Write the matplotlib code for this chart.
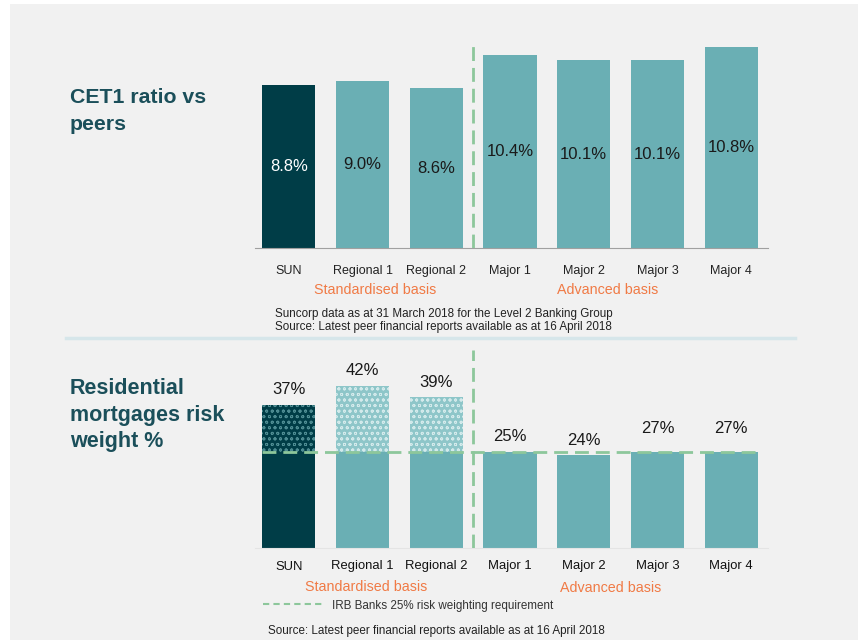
import matplotlib.pyplot as plt
from matplotlib.patches import Rectangle
from matplotlib.lines import Line2D

plt.rcParams['font.family'] = ['Liberation Sans', 'DejaVu Sans']
plt.rcParams['hatch.linewidth'] = 0.6

# Data
banks = ["SUN", "Regional 1", "Regional 2", "Major 1", "Major 2", "Major 3", "Major 4"]
cet1 = [8.8, 9.0, 8.6, 10.4, 10.1, 10.1, 10.8]
risk_weight = [37, 42, 39, 25, 24, 27, 27]
irb_req = 25
standardised = [0, 1, 2]  # banks on standardised basis

dark = "#003d47"
teal = "#6aafb4"
green = "#8dc79b"
orange = "#f07a45"
title_col = "#1b4f5a"
bg = "#f1f1f1"

W, H = 858, 640
fig = plt.figure(figsize=(W / 100, H / 100), dpi=100, facecolor="white")
fig.patches.append(Rectangle((10 / W, 0), 1, 1 - 4 / H, transform=fig.transFigure,
                             facecolor=bg, edgecolor="none", zorder=-5))


def px_axes(left, top, right, bottom):
    return fig.add_axes([left / W, 1 - bottom / H, (right - left) / W, (bottom - top) / H])


x = list(range(len(banks)))
colors = [dark if i == 0 else teal for i in x]
bw = 0.72
xlim = (-0.46, 6.5)
dash = (0, (5, 2.5))

# ---------------- top chart: CET1 ----------------
ax1 = px_axes(255, 40, 768, 248)
ax1.set_facecolor("none")
ax1.bar(x, cet1, width=bw, color=colors, edgecolor="none", zorder=2)
ax1.set_xlim(*xlim)
ax1.set_ylim(0, 11.2)
for i, v in enumerate(cet1):
    ax1.text(i, v / 2, f"{v:.1f}%", ha="center", va="center", fontsize=12,
             color="white" if i == 0 else "#1a1a1a", zorder=3)
ax1.plot([2.5, 2.5], [0, 10.95], ls=dash, color=green, lw=2, zorder=3)
for s in ["top", "right", "left"]:
    ax1.spines[s].set_visible(False)
ax1.spines["bottom"].set_color("#a0a0a0")
ax1.set_yticks([])
ax1.set_xticks(x)
ax1.set_xticklabels(banks, fontsize=9, color="#222222")
ax1.tick_params(axis="x", length=0, pad=12)

fig.text(375 / W, 1 - 290 / H, "Standardised basis", color=orange, fontsize=10.3, ha="center", va="center")
fig.text(608 / W, 1 - 290 / H, "Advanced basis", color=orange, fontsize=10.3, ha="center", va="center")
fig.text(275 / W, 1 - 314 / H, "Suncorp data as at 31 March 2018 for the Level 2 Banking Group",
         fontsize=8.4, color="#222222", va="center")
fig.text(275 / W, 1 - 327 / H, "Source: Latest peer financial reports available as at 16 April 2018",
         fontsize=8.4, color="#222222", va="center")

fig.text(70 / W, 1 - 111 / H, "CET1 ratio vs\npeers", fontsize=15.3, fontweight="bold",
         color=title_col, va="center", ha="left", linespacing=1.5)

# separator
fig.lines.append(Line2D([66 / W, 795 / W], [1 - 338 / H, 1 - 338 / H], transform=fig.transFigure,
                        color="#d6e6ea", lw=2.5))

# ---------------- bottom chart: risk weight ----------------
ax2 = px_axes(255, 345, 768, 548)
ax2.set_facecolor("none")
base = [min(v, irb_req) for v in risk_weight]
ax2.bar(x, base, width=bw, color=colors, edgecolor="none", zorder=2)
for i in standardised:
    extra = risk_weight[i] - irb_req
    if i == 0:
        fc, hc = dark, "#4e8c92"
    else:
        fc, hc = "#8ec6c9", "#d3eaeb"
    ax2.bar(i, extra, bottom=irb_req, width=bw, color=fc, edgecolor=hc, hatch="ooo",
            linewidth=0, zorder=2)
for i, v in enumerate(risk_weight):
    ax2.text(i, v + 2.0, f"{v}%", ha="center", va="bottom", fontsize=12, color="#1a1a1a", zorder=3)
ax2.plot([-bw / 2, 6 + bw / 2], [irb_req, irb_req], ls=dash, color=green, lw=2, zorder=3)
ax2.plot([2.5, 2.5], [0, 51.3], ls=dash, color=green, lw=2, zorder=3)
ax2.set_xlim(*xlim)
ax2.set_ylim(0, 52.6)
for s in ["top", "right", "left"]:
    ax2.spines[s].set_visible(False)
ax2.spines["bottom"].set_color("#e4e4e4")
ax2.set_yticks([])
ax2.set_xticks(x)
ax2.set_xticklabels(banks, fontsize=9.4, color="#111111")
ax2.tick_params(axis="x", length=0, pad=9)

fig.text(366 / W, 1 - 587 / H, "Standardised basis", color=orange, fontsize=10.3, ha="center", va="center")
fig.text(611 / W, 1 - 588 / H, "Advanced basis", color=orange, fontsize=10.3, ha="center", va="center")
fig.lines.append(Line2D([263 / W, 323 / W], [1 - 604 / H, 1 - 604 / H], transform=fig.transFigure,
                        color=green, lw=1.5, ls=(0, (3, 2))))
fig.text(332 / W, 1 - 606 / H, "IRB Banks 25% risk weighting requirement", fontsize=8.4,
         color="#333333", va="center")
fig.text(268 / W, 1 - 631 / H, "Source: Latest peer financial reports available as at 16 April 2018",
         fontsize=8.4, color="#222222", va="center")

fig.text(70 / W, 1 - 415 / H, "Residential\nmortgages risk\nweight %", fontsize=15.5, fontweight="bold",
         color=title_col, va="center", ha="left", linespacing=1.35)

fig.savefig("out.png", dpi=100, facecolor="white")
